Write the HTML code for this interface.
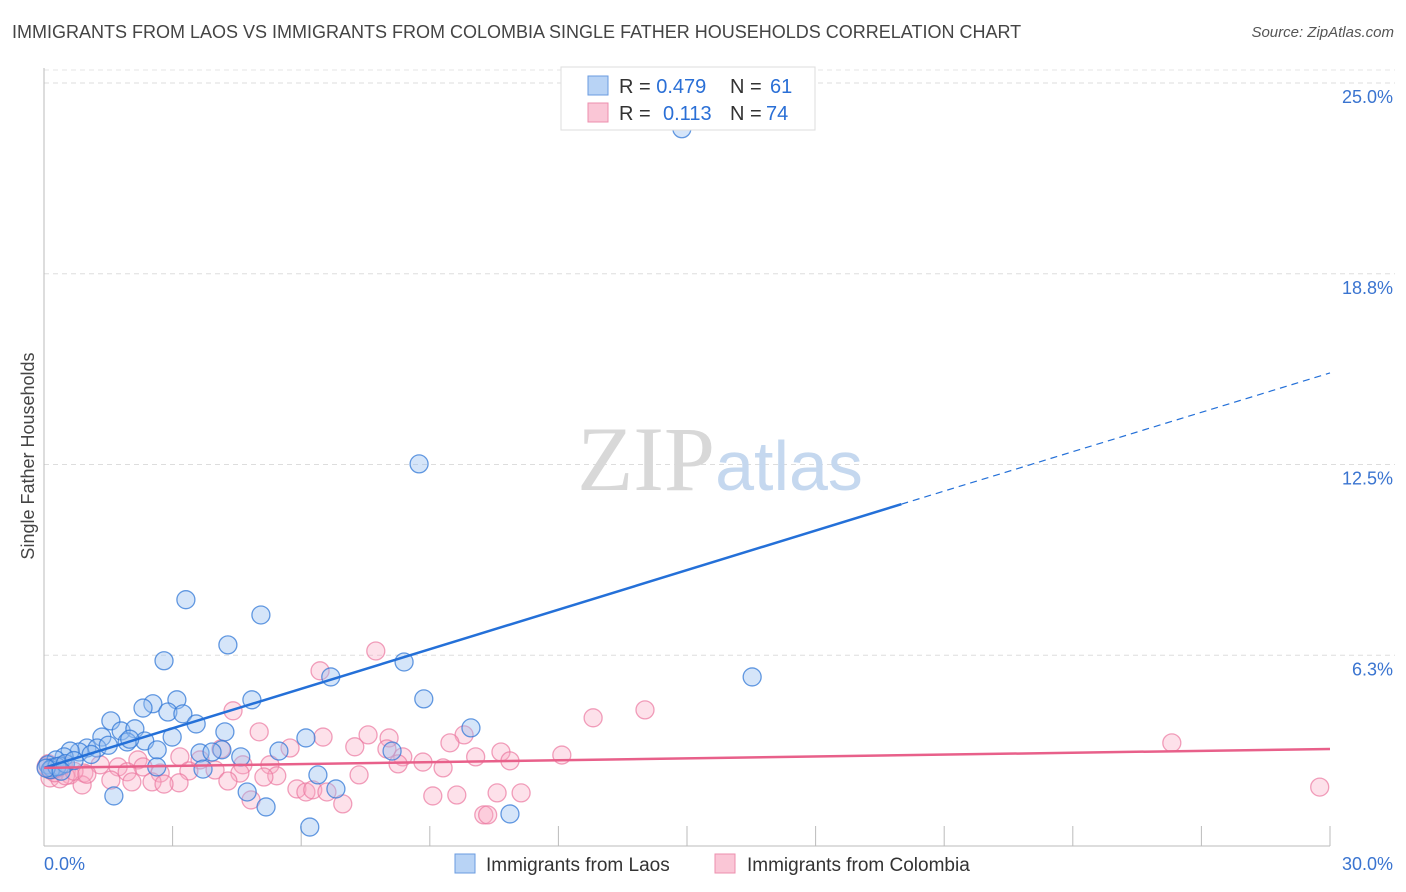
<!DOCTYPE html>
<html><head><meta charset="utf-8">
<style>
body{margin:0;background:#fff;font-family:"Liberation Sans",sans-serif;}
#wrap{position:relative;width:1406px;height:892px;overflow:hidden}
.title{position:absolute;left:12px;top:22px;font-size:18px;color:#444;}
.src{position:absolute;right:12px;top:24px;font-size:15px;color:#555;font-style:italic}
</style></head><body>
<div id="wrap">
<div class="title">IMMIGRANTS FROM LAOS VS IMMIGRANTS FROM COLOMBIA SINGLE FATHER HOUSEHOLDS CORRELATION CHART</div>
<div class="src">Source: ZipAtlas.com</div>
<svg id="svg" xmlns="http://www.w3.org/2000/svg" width="1406" height="892" style="position:absolute;left:0;top:0"></svg>
</div>
<script>
const yTicks=[6.25,12.5,18.75,25];
const yTickLabels=["6.3%","12.5%","18.8%","25.0%"];
const xTicks=[3,6,9,12,15,18,21,24,27,30];
const laosX=[14.88,8.75,3.31,5.06,4.29,2.80,8.40,6.69,16.52,4.85,3.10,8.86,2.54,2.31,2.89,3.24,1.56,3.55,9.96,1.80,2.12,4.22,1.35,2.99,6.11,1.94,2.35,1.00,1.24,0.82,0.61,2.64,4.15,3.64,3.92,5.48,8.12,0.47,0.28,0.09,0.19,0.37,4.59,2.63,3.71,6.39,6.81,4.74,1.63,5.18,10.87,6.20,0.15,0.3,0.5,1.1,0.7,0.05,0.4,1.5,2.0];
const laosY=[23.5,12.52,8.07,7.57,6.59,6.07,6.03,5.54,5.54,4.79,4.79,4.82,4.66,4.52,4.39,4.33,4.10,4.0,3.87,3.77,3.84,3.74,3.57,3.57,3.54,3.41,3.44,3.21,3.21,3.08,3.11,3.15,3.15,3.05,3.08,3.11,3.11,2.92,2.82,2.66,2.56,2.62,2.92,2.59,2.52,2.33,1.87,1.77,1.64,1.28,1.05,0.62,2.5,2.6,2.7,3.0,2.8,2.55,2.45,3.3,3.5];
const colX=[7.74,6.44,14.02,12.81,4.41,26.31,29.76,5.02,6.51,7.56,8.05,9.80,9.47,7.25,4.13,5.74,8.00,10.66,12.08,10.07,8.37,10.87,8.84,8.26,5.27,4.64,2.19,3.17,3.64,1.31,1.73,2.31,9.31,3.99,3.38,2.71,4.57,7.35,1.94,0.93,0.61,5.43,5.13,0.14,0.37,1.56,2.52,2.05,3.15,4.29,0.89,2.80,5.90,6.11,6.27,6.60,9.07,9.63,10.57,11.13,4.83,6.97,10.26,10.35,0.14,0.05,0.25,0.5,0.3,0.1,0.7,1.0,0.45,0.2];
const colY=[6.39,5.74,4.46,4.20,4.43,3.38,1.93,3.74,3.57,3.64,3.54,3.64,3.38,3.25,3.18,3.21,3.18,3.08,2.98,2.92,2.92,2.79,2.75,2.69,2.66,2.66,2.82,2.92,2.82,2.66,2.59,2.59,2.56,2.49,2.46,2.39,2.39,2.33,2.43,2.39,2.33,2.30,2.26,2.23,2.20,2.16,2.10,2.10,2.07,2.13,2.00,2.03,1.87,1.77,1.84,1.77,1.64,1.67,1.74,1.74,1.51,1.38,1.02,1.02,2.49,2.6,2.4,2.3,2.55,2.7,2.45,2.35,2.65,2.5];
const laosLine=[[0,2.56],[20,11.2],[30,15.5]];
const colLine=[[0,2.56],[30,3.18]];
const X0=44,X1=1330,Y0=846,YP=30.52;
const sx=v=>X0+(X1-X0)*v/30, sy=v=>Y0-v*YP;
const svg=document.getElementById('svg');const NS='http://www.w3.org/2000/svg';
function mk(t,a,p){const e=document.createElementNS(NS,t);for(const k in a)e.setAttribute(k,a[k]);(p||svg).appendChild(e);return e;}
yTicks.forEach((v,i)=>{
 const g=mk('line',{x1:X0,x2:1395,y1:sy(v),y2:sy(v),stroke:'#ddd','stroke-dasharray':'5,4'});
 
 
 const t=mk('text',{x:1393,y:sy(v)+20,'text-anchor':'end','font-size':18,fill:'#3a74d0'});t.textContent=yTickLabels[i];
 
 
});
const topGrid=mk('line',{x1:X0,x2:1395,y1:sy(25)-13,y2:sy(25)-13,stroke:'#e6e6e6','stroke-dasharray':'5,4'});


const yAx=mk('line',{x1:X0,x2:X0,y1:68,y2:Y0,stroke:'#bbb'});


const xAx=mk('line',{x1:X0,x2:X1,y1:Y0,y2:Y0,stroke:'#bbb'});


xTicks.forEach(v=>{const l=mk('line',{x1:sx(v),x2:sx(v),y1:826,y2:Y0,stroke:'#bbb'});
 
 });
const wm=mk('text',{x:720,y:490,'text-anchor':'middle','font-size':92});
wm.innerHTML='<tspan font-family="Liberation Serif" fill="#d8d8d8">ZIP</tspan><tspan fill="#c5d8ef" font-size="70">atlas</tspan>';


function dots(xs,ys,fill,stroke,name){xs.forEach((x,i)=>{const c=mk('circle',{cx:sx(x),cy:sy(ys[i]),r:9,fill:fill,stroke:stroke,'stroke-width':1.3});
 
 });}
dots(colX,colY,'rgba(248,170,195,0.35)','rgba(235,120,160,0.7)','colombia-point');
dots(laosX,laosY,'rgba(150,190,240,0.4)','rgba(50,120,215,0.75)','laos-point');
const bl=mk('line',{x1:sx(laosLine[0][0]),y1:sy(laosLine[0][1]),x2:sx(laosLine[1][0]),y2:sy(laosLine[1][1]),stroke:'#2470d8','stroke-width':2.5});


const bd=mk('line',{x1:sx(laosLine[1][0]),y1:sy(laosLine[1][1]),x2:sx(laosLine[2][0]),y2:sy(laosLine[2][1]),stroke:'#2470d8','stroke-width':1.2,'stroke-dasharray':'7,5'});


const pl=mk('line',{x1:sx(colLine[0][0]),y1:sy(colLine[0][1]),x2:sx(colLine[1][0]),y2:sy(colLine[1][1]),stroke:'#e8608a','stroke-width':2.5});


const yt=mk('text',{x:34,y:456,transform:'rotate(-90 34 456)','text-anchor':'middle','font-size':18,fill:'#444'});yt.textContent='Single Father Households';


const x0=mk('text',{x:44,y:870,'font-size':18,fill:'#3a74d0'});x0.textContent='0.0%';


const x1=mk('text',{x:1393,y:870,'text-anchor':'end','font-size':18,fill:'#3a74d0'});x1.textContent='30.0%';


const lg=mk('g',{});


mk('rect',{x:561,y:67,width:254,height:63,fill:'#fff',stroke:'#ddd'},lg);
mk('rect',{x:588,y:76,width:20,height:19,fill:'#b8d3f5',stroke:'#6a9be0'},lg);
mk('rect',{x:588,y:103,width:20,height:19,fill:'#fac6d6',stroke:'#ec8fae'},lg);
const t1=mk('text',{x:619,y:93,'font-size':20,fill:'#333'},lg);t1.innerHTML='R = <tspan fill="#2a6fd6">0.479</tspan><tspan x="730">N = </tspan><tspan x="770" fill="#2a6fd6">61</tspan>';
const t2=mk('text',{x:619,y:120,'font-size':20,fill:'#333'},lg);t2.innerHTML='R = <tspan x="663" fill="#2a6fd6">0.113</tspan><tspan x="730">N = </tspan><tspan x="766" fill="#2a6fd6">74</tspan>';
const bg=mk('g',{});


mk('rect',{x:455,y:854,width:20,height:19,fill:'#b8d3f5',stroke:'#6a9be0'},bg);
const b1=mk('text',{x:486,y:871,'font-size':19,fill:'#333'},bg);b1.textContent='Immigrants from Laos';
mk('rect',{x:715,y:854,width:20,height:19,fill:'#fac6d6',stroke:'#ec8fae'},bg);
const b2=mk('text',{x:747,y:871,'font-size':19,fill:'#333'},bg);b2.textContent='Immigrants from Colombia';
</script>
</body></html>
